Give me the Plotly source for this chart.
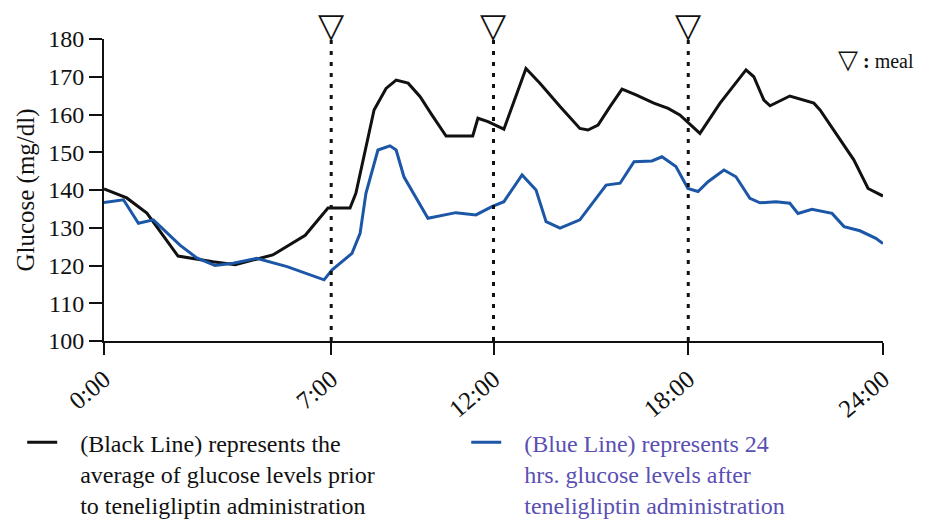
import plotly.graph_objects as go

# Time (hours) and glucose (mg/dl) values
black_t = [0, 0.7, 1.32, 2.28, 3.36, 4.04, 5.2, 6.2, 6.9, 7.58, 7.76, 8.32, 8.69, 9.0,
           9.37, 9.74, 10.1, 10.54, 11.36, 11.52, 11.83, 12.32, 13.0, 13.43, 14.05,
           14.66, 14.91, 15.22, 15.59, 15.96, 16.39, 16.94, 17.38, 17.74, 18.36,
           18.98, 19.78, 20.02, 20.33, 20.52, 21.13, 21.87, 22.06, 22.55, 23.1,
           23.54, 24.0]
black_v = [140.3, 137.9, 133.9, 122.5, 121.0, 120.2, 122.8, 128.0, 135.2, 135.2, 139.1,
           161.2, 166.9, 169.1, 168.3, 164.7, 159.9, 154.3, 154.3, 159.0, 158.1,
           156.1, 172.2, 168.3, 162.1, 156.3, 155.9, 157.2, 162.1, 166.7, 165.2,
           163.0, 161.6, 159.9, 155.0, 163.0, 171.8, 170.0, 163.8, 162.3, 164.9,
           163.0, 161.2, 155.0, 148.0, 140.4, 138.4]

blue_t = [0, 0.6, 1.06, 1.52, 2.34, 2.86, 3.42, 3.98, 4.7, 5.64, 6.78, 7.02, 7.64,
          7.89, 8.07, 8.44, 8.81, 9.0, 9.24, 9.98, 10.84, 11.46, 11.95, 12.32,
          12.88, 13.31, 13.62, 14.05, 14.66, 15.47, 15.9, 16.33, 16.88, 17.19,
          17.62, 17.99, 18.3, 18.61, 19.1, 19.47, 19.9, 20.21, 20.7, 21.13, 21.38,
          21.81, 22.43, 22.8, 23.29, 23.78, 24.0]
blue_v = [136.7, 137.4, 131.2, 132.1, 125.4, 122.0, 120.0, 120.6, 121.9, 119.7, 116.2,
          118.8, 123.2, 128.5, 139.1, 150.6, 151.7, 150.6, 143.5, 132.5, 134.0,
          133.4, 135.6, 136.9, 144.0, 140.0, 131.6, 129.9, 132.1, 141.3, 141.8,
          147.5, 147.7, 148.8, 146.2, 140.4, 139.6, 142.2, 145.3, 143.5, 137.8,
          136.6, 136.9, 136.5, 133.8, 134.9, 133.8, 130.3, 129.2, 127.2, 125.8]

meal_t = [7, 12, 18]
tick_vals = [0, 7, 12, 18, 24]
tick_text = ["0:00", "7:00", "12:00", "18:00", "24:00"]
y_ticks = [100, 110, 120, 130, 140, 150, 160, 170, 180]

black_lines = ["(Black Line) represents the", "average of glucose levels prior",
               "to teneligliptin administration"]
blue_lines = ["(Blue Line) represents 24", "hrs. glucose levels after",
              "teneligliptin administration"]
BLUE_TEXT = "#5a4fb3"
PAD = "\u00a0\u00a0\u00a0"  # gap between legend symbol and text
black_name = "<br>".join(PAD + s for s in black_lines)
blue_name = "<br>".join(PAD + f"<span style='color:{BLUE_TEXT}'>{s}</span>"
                        for s in blue_lines)

SERIF = "Liberation Serif"
INK = "#111111"

fig = go.Figure()
fig.add_trace(go.Scatter(x=black_t, y=black_v, mode="lines", name=black_name,
                         line=dict(color=INK, width=3), legend="legend"))
fig.add_trace(go.Scatter(x=blue_t, y=blue_v, mode="lines", name=blue_name,
                         line=dict(color="#1c56a6", width=3), legend="legend2"))

# meal markers and dotted lines
for m in meal_t:
    fig.add_shape(type="line", x0=m, x1=m, y0=100, y1=181.2, xref="x", yref="y",
                  line=dict(color=INK, width=3, dash="4px,7px"))
    fig.add_annotation(x=m, y=1.047, xref="x", yref="paper", xanchor="center",
                       yanchor="middle", showarrow=False, text="▽",
                       font=dict(family="DejaVu Sans", size=34, color=INK))

fig.add_annotation(x=0.94, y=0.935, xref="paper", yref="paper", xanchor="left",
                   yanchor="middle", showarrow=False,
                   text="<span style='font-family:DejaVu Sans;font-size:26px'>▽</span> <b>:</b> meal",
                   font=dict(family=SERIF, size=20, color=INK))

legend_common = dict(orientation="v", yanchor="top", xanchor="left", valign="top",
                     itemwidth=30, bgcolor="rgba(0,0,0,0)",
                     font=dict(family=SERIF, size=24, color=INK))

fig.update_layout(
    width=925, height=520,
    margin=dict(l=104, r=42, t=39, b=179, autoexpand=False),
    paper_bgcolor="white", plot_bgcolor="white",
    font=dict(family=SERIF, size=20, color=INK),
    xaxis=dict(range=[0, 24], tickvals=tick_vals, ticktext=tick_text, tickangle=-40,
               showgrid=False, zeroline=False, showline=True, linecolor=INK,
               linewidth=2, ticks="outside", ticklen=12, tickwidth=2,
               tickcolor=INK, tickfont=dict(family=SERIF, size=25)),
    yaxis=dict(range=[100, 180], tickvals=y_ticks, showgrid=False,
               zeroline=False, showline=True, linecolor=INK, linewidth=2,
               ticks="outside", ticklen=13, tickwidth=2, tickcolor=INK,
               tickfont=dict(family=SERIF, size=24),
               title=dict(text="Glucose (mg/dl)", font=dict(family=SERIF, size=25),
                          standoff=6)),
    legend=dict(x=-0.105, y=-0.262, **legend_common),
    legend2=dict(x=0.465, y=-0.262, **legend_common),
    showlegend=True,
)

fig.write_html("out.html")
